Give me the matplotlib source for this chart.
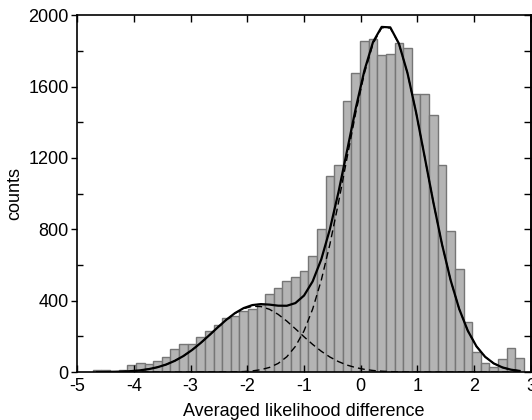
import numpy as np
import matplotlib
matplotlib.use("Agg")
import matplotlib.pyplot as plt
from matplotlib.ticker import MultipleLocator

# ---- data ----
bin_start = -4.724
bin_width = 0.152
counts = [12, 14, 4, 10, 38, 50, 45, 61, 84, 132,
          160, 155, 196, 231, 263, 305, 317, 341, 354, 384,
          436, 474, 510, 535, 568, 653, 800, 1098, 1162, 1521,
          1675, 1853, 1868, 1775, 1780, 1842, 1813, 1559, 1559, 1441,
          1163, 789, 580, 278, 115, 53, 28, 74, 134, 77]

# two-Gaussian fit components (amplitude, mean, sigma)
g1_amp, g1_mu, g1_sigma = 370.0, -1.85, 0.76
g2_amp, g2_mu, g2_sigma = 1940.0, 0.444, 0.70

x_ticks = [-5, -4, -3, -2, -1, 0, 1, 2, 3]
y_ticks = [0, 400, 800, 1200, 1600, 2000]

plt.rcParams['font.family'] = ['Liberation Sans', 'DejaVu Sans']

fig = plt.figure(figsize=(5.32, 4.20), dpi=100)
ax = fig.add_axes([0.145, 0.114, 0.853, 0.850])

counts = np.array(counts, dtype=float)
edges = bin_start + bin_width * np.arange(len(counts) + 1)
centers = edges[:-1] + bin_width / 2

ax.bar(edges[:-1], counts, width=bin_width, align='edge',
       color='#b4b4b4', edgecolor='#767676', linewidth=1.0, zorder=1)

g1 = g1_amp * np.exp(-(centers - g1_mu) ** 2 / (2 * g1_sigma ** 2))
g2 = g2_amp * np.exp(-(centers - g2_mu) ** 2 / (2 * g2_sigma ** 2))

ax.plot(centers, g1, color='black', lw=1.0, ls=(0, (5, 3)), zorder=3)
ax.plot(centers, g2, color='black', lw=1.0, ls=(0, (5, 3)), zorder=3)
ax.plot(centers, g1 + g2, color='black', lw=1.6, zorder=4)

ax.set_xlim(-5, 3)
ax.set_ylim(0, 2000)
ax.set_xticks(x_ticks)
ax.set_yticks(y_ticks)
ax.set_xticklabels([str(t) for t in x_ticks])
ax.set_yticklabels([str(t) for t in y_ticks])
ax.yaxis.set_minor_locator(MultipleLocator(200))

fs = 13
ax.tick_params(axis='y', which='major', direction='out', length=4, width=1,
               labelsize=fs, pad=2, right=False)
ax.tick_params(axis='y', which='minor', direction='in', length=4, width=1,
               right=False)
ax.tick_params(axis='x', which='major', direction='in', length=5, width=1,
               labelsize=fs, pad=4, top=True)

# right-side ticks every 200, inward
sec = ax.secondary_yaxis('right')
sec.set_yticks(np.arange(0, 2001, 200))
sec.tick_params(direction='in', length=5, width=1, labelright=False)
sec.spines['right'].set_linewidth(1.2)

for s in ax.spines.values():
    s.set_linewidth(1.2)

ax.set_xlabel('Averaged likelihood difference', fontsize=fs, labelpad=6)
ax.set_ylabel('counts', fontsize=fs, labelpad=4)

fig.savefig('out.png', dpi=100)
